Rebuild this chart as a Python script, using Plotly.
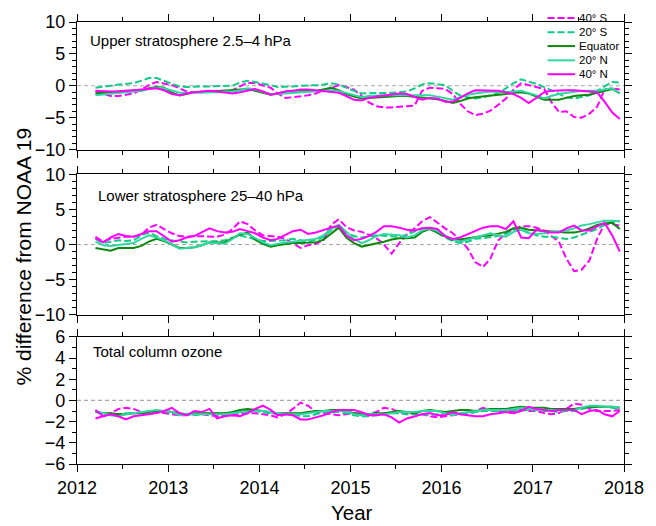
import plotly.graph_objects as go

# Monthly samples, March 2012 .. December 2017 (70 months)
months = [f"{2012 + m // 12}-{m % 12 + 1:02d}-15" for m in range(2, 72)]

series_keys = ["40S", "20S", "EQ", "20N", "40N"]
series_labels = ["40\u00b0 S", "20\u00b0 S", "Equator", "20\u00b0 N", "40\u00b0 N"]

panel_titles = ["Upper stratosphere 2.5\u20134 hPa", "Lower stratosphere 25\u201340 hPa", "Total column ozone"]

upper_40S = [-0.9, -1.2, -1.6, -1.6, -1.4, -1.2, -0.6, 0.1, 0.6, 0.4,
             0.1, -0.4, -0.9, -1.0, -0.9, -0.9, -0.8, -0.8, -0.7, -0.1,
             0.5, 0.4, 0.1, -0.3, -1.2, -1.9, -1.8, -1.7, -1.5, -1.2,
             -0.8, -0.4, 0.1, -0.2, -0.6, -1.6, -2.6, -3.2, -3.4, -3.4,
             -3.3, -3.2, -3.1, -0.8, -0.3, -0.4, -0.5, -1.3, -2.8, -4.0,
             -4.6, -4.4, -3.9, -3.0, -2.0, -0.6, 0.4, 0.1, -0.2, -0.5,
             -2.5, -4.1, -4.0, -4.9, -5.0, -4.4, -3.3, -0.6, -0.4, -0.6]
upper_20S = [-0.3, -0.2, 0.0, 0.2, 0.3, 0.4, 0.8, 1.2, 1.2, 0.8,
             0.4, -0.1, -0.2, -0.1, -0.1, -0.1, -0.1, -0.1, 0.0, 0.5,
             0.8, 0.6, 0.4, 0.1, -0.2, -0.2, -0.1, 0.0, 0.0, 0.1,
             0.2, 0.4, 0.2, -0.3, -0.8, -1.2, -1.2, -1.2, -1.2, -1.1,
             -1.0, -0.9, -0.4, 0.2, 0.4, 0.3, 0.1, -0.8, -1.5, -1.8,
             -2.0, -1.8, -1.5, -1.2, -0.4, 0.4, 1.0, 0.7, 0.3, -0.2,
             -0.7, -1.2, -1.8, -2.0, -1.7, -1.5, -0.8, -0.1, 0.6, 0.5]
upper_EQ = [-1.2, -1.1, -1.0, -0.8, -0.8, -0.8, -0.8, -0.4, -0.2, -0.3,
            -1.1, -1.5, -1.3, -1.0, -1.0, -0.9, -0.9, -0.8, -0.7, -0.6,
            -0.5, -0.8, -1.1, -1.4, -1.2, -0.9, -0.8, -0.7, -0.7, -0.8,
            -0.5, -0.3, -0.7, -1.3, -1.7, -2.0, -1.9, -1.8, -1.7, -1.6,
            -1.6, -1.6, -1.7, -1.8, -1.9, -2.1, -2.4, -2.7, -2.4, -2.0,
            -1.8, -1.7, -1.6, -1.5, -1.3, -1.1, -1.0, -1.2, -1.7, -2.2,
            -2.2, -2.2, -1.9, -1.6, -1.5, -1.4, -1.1, -0.8, -0.5, -1.2]
upper_20N = [-1.5, -1.4, -1.2, -1.1, -1.0, -0.9, -0.8, -0.5, -0.3, -0.4,
             -0.8, -1.1, -1.1, -1.1, -1.0, -1.0, -1.0, -0.9, -0.9, -0.7,
             -0.4, -0.6, -0.9, -1.3, -1.3, -1.2, -1.1, -1.0, -1.0, -0.9,
             -0.8, -0.7, -0.8, -1.1, -1.5, -1.8, -1.6, -1.5, -1.5, -1.5,
             -1.5, -1.5, -1.4, -1.4, -1.5, -1.7, -1.9, -2.2, -1.8, -1.4,
             -1.2, -1.0, -0.9, -1.0, -1.0, -0.9, -0.8, -1.1, -1.5, -2.0,
             -1.6, -1.3, -1.1, -0.9, -0.8, -0.8, -0.8, -0.6, -0.4, -1.2]
upper_40N = [-0.8, -0.9, -0.9, -0.9, -0.8, -0.7, -0.6, -0.5, -0.4, -0.7,
             -1.3, -1.5, -1.2, -1.0, -0.9, -0.8, -0.9, -1.0, -1.2, -1.0,
             -0.8, -0.5, -0.9, -1.4, -1.2, -0.9, -0.8, -0.6, -0.6, -0.7,
             -0.8, -0.9, -1.1, -1.6, -2.2, -2.3, -1.9, -1.7, -1.5, -1.3,
             -1.2, -1.3, -1.8, -2.2, -1.9, -2.0, -2.5, -2.5, -1.9, -1.2,
             -0.7, -0.7, -0.7, -0.8, -1.0, -1.3, -1.9, -2.7, -1.9, -1.0,
             -0.8, -0.7, -0.7, -0.7, -0.8, -0.9, -1.0, -2.5, -4.2, -5.2]

lower_40S = [1.1, 0.4, 0.8, 1.0, 1.1, 1.1, 1.4, 2.4, 2.8, 2.2,
             1.6, 1.2, 1.1, 1.2, 1.2, 1.1, 1.1, 1.4, 2.2, 3.3,
             2.9, 2.0, 1.3, 1.2, 1.1, 0.8, 0.1, -0.5, -0.1, 0.1,
             0.6, 2.8, 3.6, 2.5, 2.0, 1.8, 1.4, 0.9, 0.0, -1.3,
             0.2, 1.4, 2.3, 3.3, 3.9, 3.1, 2.3, 1.6, 0.7, -0.6,
             -2.5, -3.2, -2.0, 0.6, 1.6, 2.2, 2.6, 2.6, 2.4, 2.0,
             1.3, 0.4, -2.0, -3.8, -3.6, -2.3, 0.8, 2.9, 2.9, 2.7]
lower_20S = [0.8, 0.2, 0.4, 0.6, 0.5, 0.6, 1.3, 1.7, 1.2, 0.8,
             0.6, 0.4, 0.3, 0.4, 0.4, 0.4, 0.5, 0.6, 1.0, 1.3,
             1.0, 0.7, 0.5, 0.5, 0.5, 0.6, 0.8, 0.6, 0.4, 0.6,
             1.1, 2.0, 2.7, 1.7, 1.2, 1.0, 1.2, 1.3, 1.2, 1.1,
             1.1, 1.4, 1.8, 2.3, 2.3, 1.6, 1.0, 0.5, 0.2, 0.4,
             0.8, 0.9, 1.0, 1.2, 1.5, 2.1, 2.2, 1.7, 1.3, 1.1,
             1.1, 1.0, 0.8, 1.0, 1.4, 1.8, 2.2, 2.8, 3.2, 3.3]
lower_EQ = [-0.5, -0.7, -0.9, -0.5, -0.5, -0.5, -0.2, 0.4, 0.8, 0.5,
            0.0, -0.5, -0.5, -0.4, -0.1, 0.3, 0.3, 0.3, 0.9, 1.4,
            1.7, 0.7, 0.1, -0.3, -0.1, 0.1, 0.2, 0.2, 0.2, 0.3,
            0.7, 1.6, 2.4, 1.0, 0.2, -0.3, -0.1, 0.2, 0.4, 0.7,
            0.9, 0.9, 1.0, 1.8, 2.2, 1.7, 1.1, 0.6, 0.7, 0.9,
            1.0, 1.2, 1.3, 1.5, 1.8, 2.3, 2.4, 2.1, 2.0, 2.0,
            1.9, 1.8, 1.7, 1.7, 1.9, 2.3, 2.8, 3.0, 3.1, 2.2]
lower_20N = [0.4, -0.1, -0.2, -0.1, 0.0, 0.2, 0.8, 1.3, 1.0, 0.6,
             0.0, -0.6, -0.5, -0.4, -0.1, 0.3, 0.2, 0.1, 0.8, 1.6,
             1.5, 0.9, 0.3, -0.1, 0.1, 0.3, 0.4, 0.5, 0.6, 0.8,
             1.3, 2.2, 2.8, 1.8, 0.8, 0.2, 0.6, 1.2, 1.5, 1.4,
             1.3, 1.0, 1.3, 2.0, 2.3, 1.9, 1.3, 0.7, 0.4, 0.7,
             1.1, 1.4, 1.6, 1.3, 1.1, 1.8, 2.1, 1.6, 1.5, 1.6,
             1.8, 1.9, 2.0, 2.3, 2.7, 2.9, 3.1, 3.4, 3.4, 3.3]
lower_40N = [0.9, 0.3, 1.0, 1.5, 1.2, 1.1, 1.5, 1.9, 1.9, 1.2,
             0.4, 0.6, 1.0, 1.2, 1.8, 2.3, 1.9, 1.7, 1.8, 2.2,
             1.9, 1.6, 1.0, 0.6, 0.8, 1.3, 1.9, 2.1, 1.5, 1.7,
             2.1, 2.4, 2.7, 1.3, 0.6, 0.8, 1.2, 1.8, 2.6, 2.6,
             2.4, 2.1, 2.0, 2.3, 2.4, 2.2, 1.2, 0.8, 1.0, 1.5,
             2.0, 2.4, 2.6, 2.6, 2.2, 3.3, 1.0, 0.9, 2.1, 1.9,
             1.7, 1.7, 2.3, 2.7, 2.0, 2.0, 2.6, 3.1, 1.3, -1.0]

total_40S = [-1.7, -1.5, -1.2, -0.8, -0.7, -0.8, -1.1, -1.3, -1.1, -1.2,
             -1.3, -1.4, -1.4, -1.3, -1.3, -1.4, -1.5, -1.4, -1.4, -1.3,
             -1.2, -1.2, -1.3, -1.4, -1.6, -1.3, -0.8, -0.2, -0.5, -1.1,
             -1.2, -1.3, -1.4, -1.3, -1.2, -1.2, -1.3, -1.1, -0.7, -0.8,
             -1.1, -1.3, -1.2, -1.3, -1.5, -1.6, -1.5, -1.4, -1.3, -1.2,
             -1.0, -0.7, -0.9, -1.0, -1.0, -1.0, -0.9, -1.0, -1.0, -1.2,
             -1.3, -1.2, -0.8, -0.3, -0.4, -0.8, -1.0, -1.0, -1.0, -0.9]
total_20S = [-1.0, -1.3, -1.4, -1.3, -1.2, -1.2, -1.2, -1.0, -1.0, -1.0,
             -1.1, -1.3, -1.3, -1.4, -1.3, -1.2, -1.2, -1.3, -1.2, -1.1,
             -1.0, -1.0, -1.1, -1.2, -1.3, -1.3, -1.3, -1.5, -1.5, -1.3,
             -1.1, -1.1, -1.1, -1.2, -1.4, -1.5, -1.5, -1.4, -1.3, -1.2,
             -1.2, -1.3, -1.3, -1.3, -1.4, -1.3, -1.2, -1.2, -1.3, -1.3,
             -1.1, -1.0, -1.0, -1.0, -0.9, -0.9, -0.9, -0.9, -0.9, -1.0,
             -1.0, -1.1, -1.0, -1.0, -0.8, -0.7, -0.6, -0.6, -0.7, -0.8]
total_EQ = [-1.1, -1.2, -1.2, -1.3, -1.3, -1.2, -1.2, -1.1, -1.0, -1.0,
            -1.1, -1.2, -1.3, -1.2, -1.2, -1.2, -1.2, -1.2, -1.1, -0.9,
            -0.8, -0.9, -1.0, -1.1, -1.2, -1.2, -1.2, -1.2, -1.1, -1.0,
            -1.0, -0.9, -0.9, -1.0, -1.2, -1.3, -1.3, -1.2, -1.2, -1.1,
            -1.0, -1.1, -1.2, -1.0, -0.9, -1.0, -1.1, -1.0, -0.9, -0.9,
            -1.0, -0.9, -0.8, -0.8, -0.8, -0.7, -0.6, -0.7, -0.7, -0.7,
            -0.8, -0.8, -0.8, -0.8, -0.7, -0.6, -0.6, -0.6, -0.6, -0.7]
total_20N = [-1.0, -1.2, -1.4, -1.5, -1.3, -1.2, -1.1, -1.0, -0.9, -1.0,
             -1.1, -1.4, -1.3, -1.3, -1.3, -1.3, -1.3, -1.3, -1.2, -1.1,
             -1.1, -1.0, -1.0, -1.1, -1.2, -1.3, -1.3, -1.3, -1.2, -1.1,
             -1.0, -1.0, -1.0, -1.0, -1.3, -1.4, -1.3, -1.3, -1.3, -1.2,
             -1.1, -1.1, -1.1, -1.0, -1.0, -1.0, -1.2, -1.4, -1.2, -1.1,
             -1.0, -0.9, -0.9, -0.9, -0.9, -0.8, -0.7, -0.8, -0.8, -0.9,
             -0.9, -0.9, -0.9, -0.9, -0.7, -0.5, -0.5, -0.6, -0.6, -0.7]
total_40N = [-0.9, -1.5, -1.3, -1.5, -1.8, -1.5, -1.4, -1.3, -1.2, -1.0,
             -0.7, -1.2, -1.4, -1.0, -1.1, -0.8, -1.7, -1.5, -1.4, -1.5,
             -1.2, -0.8, -0.5, -0.9, -1.4, -1.3, -1.4, -1.8, -1.8, -1.6,
             -1.4, -1.1, -0.9, -0.9, -0.9, -1.1, -1.4, -1.4, -1.3, -1.6,
             -2.1, -1.7, -1.5, -1.3, -1.2, -1.4, -1.4, -1.1, -1.3, -1.4,
             -1.5, -1.5, -1.3, -1.2, -1.1, -1.2, -1.0, -0.6, -0.8, -0.9,
             -1.0, -0.9, -0.9, -0.9, -1.3, -1.0, -0.9, -1.3, -1.5, -1.0]

panels = [
    [upper_40S, upper_20S, upper_EQ, upper_20N, upper_40N],
    [lower_40S, lower_20S, lower_EQ, lower_20N, lower_40N],
    [total_40S, total_20S, total_EQ, total_20N, total_40N],
]

styles = {
    "40S": dict(color="#FF00FF", dash="7px,3px", width=2),
    "20S": dict(color="#10CC84", dash="7px,3px", width=2),
    "EQ": dict(color="#0E870E", dash="solid", width=2),
    "20N": dict(color="#2ED8A0", dash="solid", width=2),
    "40N": dict(color="#FF00FF", dash="solid", width=2),
}

FONT = "Liberation Sans, Arial, sans-serif"
fig = go.Figure()

axis_names = [("x", "y"), ("x2", "y2"), ("x3", "y3")]
for p, series in enumerate(panels):
    xa, ya = axis_names[p]
    for key, label, vals in zip(series_keys, series_labels, series):
        fig.add_trace(go.Scatter(x=months, y=vals, mode="lines", name=label,
                                 line=styles[key], xaxis=xa, yaxis=ya,
                                 showlegend=False))

# Layout geometry (pixels -> paper)
W, H = 656, 526
ml, mr, mt, mb = 77, 21, 18, 62
pw, ph = W - ml - mr, H - mt - mb
def px(x):
    return (x - ml) / pw
def py(y):
    return (H - mb - y) / ph

domains = [[py(146.7), 1.0], [py(313.3), py(171.7)], [0.0, py(335.7)]]
yranges = [[-10, 10], [-10, 10], [-6, 6]]
ydticks = [5, 5, 2]

common = dict(showline=True, linecolor="black", linewidth=1.3, mirror="ticks",
              ticks="outside", ticklen=7, tickwidth=1.3, tickcolor="black",
              showgrid=False, zeroline=False,
              tickfont=dict(family=FONT, size=18, color="black"))

layout = dict(
    width=W, height=H, margin=dict(l=ml, r=mr, t=mt, b=mb),
    paper_bgcolor="white", plot_bgcolor="white", showlegend=False,
    font=dict(family=FONT, color="black"),
)
for i in range(3):
    sfx = "" if i == 0 else str(i + 1)
    layout["xaxis" + sfx] = dict(
        common, type="date", range=["2012-01-01", "2018-01-01"],
        tick0="2012-01-01", dtick="M12", tickformat="%Y",
        showticklabels=(i == 2), anchor="y" + sfx, domain=[0, 1],
        minor=dict(ticks="outside", ticklen=4, tickwidth=1.3, tickcolor="black",
                   dtick="M6", tick0="2012-01-01", showgrid=False),
    )
    layout["yaxis" + sfx] = dict(
        common, range=yranges[i], dtick=ydticks[i], tick0=0,
        domain=domains[i], anchor="x" + sfx,
        minor=dict(ticks="outside", ticklen=4, tickwidth=1.3, tickcolor="black",
                   dtick=1, showgrid=False),
    )
fig.update_layout(**layout)

# zero reference lines
for i in range(3):
    sfx = "" if i == 0 else str(i + 1)
    fig.add_shape(type="line", xref=("x" + sfx) + " domain", yref="y" + sfx,
                  x0=0, x1=1, y0=0, y1=0,
                  line=dict(color="#A8A8A8", width=1.2, dash="4px,3px"), layer="below")

# panel labels
label_pos = [(px(88), py(36.7)), (px(96.7), py(192.7)), (px(91.7), py(350.7))]
for (x, y), t in zip(label_pos, panel_titles):
    fig.add_annotation(x=x, y=y, xref="paper", yref="paper", text=t, showarrow=False,
                       xanchor="left", yanchor="middle",
                       font=dict(family=FONT, size=15, color="black"))

# legend (drawn manually to match compact row spacing)
rows = [14, 28.3, 42.3, 56.7, 70.7]
for key, label, yrow in zip(series_keys, series_labels, rows):
    fig.add_shape(type="line", xref="paper", yref="paper",
                  x0=px(557), x1=px(585), y0=py(yrow), y1=py(yrow), line=styles[key])
    fig.add_annotation(x=px(587), y=py(yrow), xref="paper", yref="paper", text=label,
                       showarrow=False, xanchor="left", yanchor="middle",
                       font=dict(family=FONT, size=11.5, color="black"))

# axis titles
fig.add_annotation(x=px(22), y=py(254.5), xref="paper", yref="paper",
                   text="% difference from NOAA 19", textangle=-90, showarrow=False,
                   xanchor="center", yanchor="middle",
                   font=dict(family=FONT, size=21, color="black"))
fig.add_annotation(x=px(358), y=py(513), xref="paper", yref="paper",
                   text="Year", showarrow=False, xanchor="center", yanchor="middle",
                   font=dict(family=FONT, size=20.5, color="black"))

fig.write_html("out.html")
